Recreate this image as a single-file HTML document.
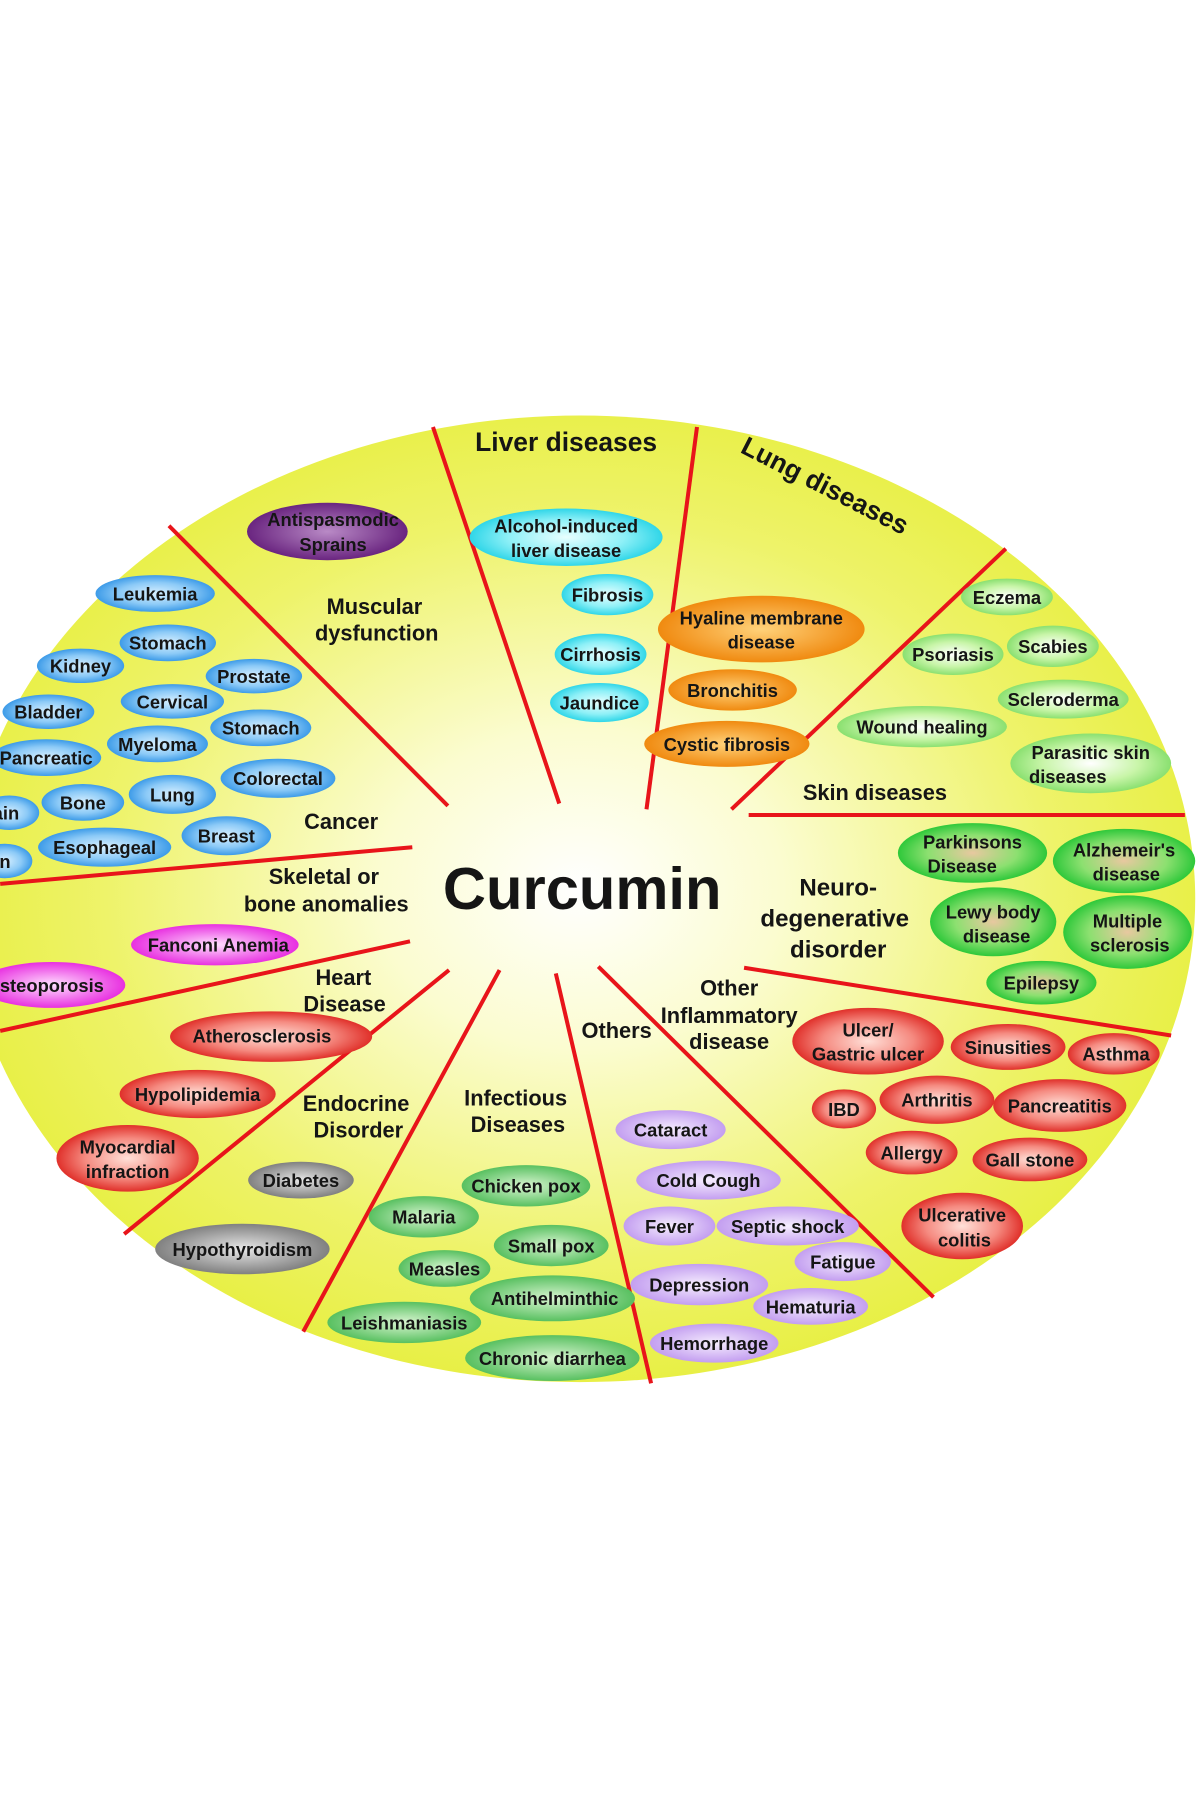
<!DOCTYPE html>
<html><head><meta charset="utf-8"><style>
html,body{margin:0;padding:0;background:#fff;}
svg{display:block;}
text{font-family:"Liberation Sans",Arial,sans-serif;font-weight:bold;fill:#151515;text-anchor:middle;}
.b{font-size:16px;}
.c{font-size:19px;}
</style></head><body>
<svg width="1200" height="1800" viewBox="0 0 1045 1568" xmlns="http://www.w3.org/2000/svg">
<defs>
<radialGradient id="bg" cx="0.5" cy="0.49" r="0.55">
<stop offset="0" stop-color="#ffffff"/><stop offset="0.3" stop-color="#fbfcd0"/><stop offset="0.7" stop-color="#eef36a"/><stop offset="1" stop-color="#e6ee3a"/></radialGradient>
<radialGradient id="blue"><stop offset="0" stop-color="#d8f0ff"/><stop offset="0.6" stop-color="#8ccaf7"/><stop offset="1" stop-color="#3d9be8"/></radialGradient>
<radialGradient id="cyan"><stop offset="0" stop-color="#e8ffff"/><stop offset="0.6" stop-color="#8ef0f7"/><stop offset="1" stop-color="#30d6e8"/></radialGradient>
<radialGradient id="purp"><stop offset="0" stop-color="#b98ac6"/><stop offset="1" stop-color="#6a2580"/></radialGradient>
<radialGradient id="orng"><stop offset="0" stop-color="#ffd27a"/><stop offset="1" stop-color="#f08a10"/></radialGradient>
<radialGradient id="lgrn"><stop offset="0" stop-color="#ffffff"/><stop offset="0.6" stop-color="#c8f5a8"/><stop offset="1" stop-color="#8ae070"/></radialGradient>
<radialGradient id="bgrn"><stop offset="0" stop-color="#e8c8a0"/><stop offset="0.6" stop-color="#8ce070"/><stop offset="1" stop-color="#2ec83a"/></radialGradient>
<radialGradient id="red"><stop offset="0" stop-color="#ffe0d8"/><stop offset="0.6" stop-color="#f58a80"/><stop offset="1" stop-color="#e0302a"/></radialGradient>
<radialGradient id="lav"><stop offset="0" stop-color="#f6eefe"/><stop offset="1" stop-color="#c39ef0"/></radialGradient>
<radialGradient id="mgrn"><stop offset="0" stop-color="#d8f5d0"/><stop offset="1" stop-color="#58c060"/></radialGradient>
<radialGradient id="gray"><stop offset="0" stop-color="#e8e8e8"/><stop offset="1" stop-color="#808080"/></radialGradient>
<radialGradient id="mag"><stop offset="0" stop-color="#ffe0ff"/><stop offset="1" stop-color="#e830e0"/></radialGradient>
</defs>
<ellipse cx="505" cy="783" rx="536" ry="421" fill="url(#bg)"/>
<g stroke="#e8141a" stroke-width="3.5">
<line x1="147" y1="458" x2="390" y2="702"/>
<line x1="377" y1="372" x2="487" y2="700"/>
<line x1="607" y1="372" x2="563" y2="705"/>
<line x1="876" y1="478" x2="637" y2="705"/>
<line x1="652" y1="710" x2="1032" y2="710"/>
<line x1="648" y1="843" x2="1020" y2="902"/>
<line x1="521" y1="842" x2="813" y2="1130"/>
<line x1="484" y1="848" x2="567" y2="1205"/>
<line x1="435" y1="845" x2="264" y2="1160"/>
<line x1="391" y1="845" x2="108" y2="1075"/>
<line x1="357" y1="820" x2="0" y2="898"/>
<line x1="359" y1="738" x2="0" y2="770"/>
</g>
<g fill="url(#blue)">
<ellipse cx="135" cy="517" rx="52" ry="16"/><ellipse cx="146" cy="560" rx="42" ry="16"/>
<ellipse cx="70" cy="580" rx="38" ry="15"/><ellipse cx="221" cy="589" rx="42" ry="15"/>
<ellipse cx="42" cy="620" rx="40" ry="15"/><ellipse cx="150" cy="611" rx="45" ry="15"/>
<ellipse cx="227" cy="634" rx="44" ry="16"/><ellipse cx="40" cy="660" rx="48" ry="16"/>
<ellipse cx="137" cy="648" rx="44" ry="16"/><ellipse cx="242" cy="678" rx="50" ry="17"/>
<ellipse cx="8" cy="708" rx="26" ry="15"/><ellipse cx="72" cy="699" rx="36" ry="16"/>
<ellipse cx="150" cy="692" rx="38" ry="17"/><ellipse cx="197" cy="728" rx="39" ry="17"/>
<ellipse cx="91" cy="738" rx="58" ry="17"/><ellipse cx="4" cy="750" rx="24" ry="15"/>
</g>
<ellipse cx="285" cy="463" rx="70" ry="25" fill="url(#purp)"/>
<g fill="url(#cyan)">
<ellipse cx="493" cy="468" rx="84" ry="25"/><ellipse cx="529" cy="518" rx="40" ry="18"/>
<ellipse cx="523" cy="570" rx="40" ry="18"/><ellipse cx="522" cy="612" rx="43" ry="17"/>
</g>
<g fill="url(#orng)">
<ellipse cx="663" cy="548" rx="90" ry="29"/><ellipse cx="638" cy="601" rx="56" ry="18"/><ellipse cx="633" cy="648" rx="72" ry="20"/>
</g>
<g fill="url(#lgrn)">
<ellipse cx="877" cy="520" rx="40" ry="16"/><ellipse cx="830" cy="570" rx="44" ry="18"/>
<ellipse cx="917" cy="563" rx="40" ry="18"/><ellipse cx="926" cy="609" rx="57" ry="17"/>
<ellipse cx="803" cy="633" rx="74" ry="18"/><ellipse cx="950" cy="665" rx="70" ry="26"/>
</g>
<g fill="url(#bgrn)">
<ellipse cx="847" cy="743" rx="65" ry="26"/><ellipse cx="979" cy="750" rx="62" ry="28"/>
<ellipse cx="865" cy="803" rx="55" ry="30"/><ellipse cx="982" cy="812" rx="56" ry="32"/>
<ellipse cx="907" cy="856" rx="48" ry="19"/>
</g>
<g fill="url(#red)">
<ellipse cx="756" cy="907" rx="66" ry="29"/><ellipse cx="878" cy="912" rx="50" ry="20"/>
<ellipse cx="970" cy="918" rx="40" ry="18"/><ellipse cx="735" cy="966" rx="28" ry="17"/>
<ellipse cx="816" cy="958" rx="50" ry="21"/><ellipse cx="923" cy="963" rx="58" ry="23"/>
<ellipse cx="794" cy="1004" rx="40" ry="19"/><ellipse cx="897" cy="1010" rx="50" ry="19"/>
<ellipse cx="838" cy="1068" rx="53" ry="29"/>
<ellipse cx="236" cy="903" rx="88" ry="22"/><ellipse cx="172" cy="953" rx="68" ry="21"/>
<ellipse cx="111" cy="1009" rx="62" ry="29"/>
</g>
<g fill="url(#lav)">
<ellipse cx="584" cy="984" rx="48" ry="17"/><ellipse cx="617" cy="1028" rx="63" ry="17"/>
<ellipse cx="583" cy="1068" rx="40" ry="17"/><ellipse cx="686" cy="1068" rx="62" ry="17"/>
<ellipse cx="734" cy="1099" rx="42" ry="17"/><ellipse cx="609" cy="1119" rx="60" ry="18"/>
<ellipse cx="706" cy="1138" rx="50" ry="16"/><ellipse cx="622" cy="1170" rx="56" ry="17"/>
</g>
<g fill="url(#mgrn)">
<ellipse cx="458" cy="1033" rx="56" ry="18"/><ellipse cx="369" cy="1060" rx="48" ry="18"/>
<ellipse cx="480" cy="1085" rx="50" ry="18"/><ellipse cx="387" cy="1105" rx="40" ry="16"/>
<ellipse cx="481" cy="1131" rx="72" ry="20"/><ellipse cx="352" cy="1152" rx="67" ry="18"/>
<ellipse cx="481" cy="1183" rx="76" ry="20"/>
</g>
<g fill="url(#gray)"><ellipse cx="262" cy="1028" rx="46" ry="16"/><ellipse cx="211" cy="1088" rx="76" ry="22"/></g>
<g fill="url(#mag)"><ellipse cx="187" cy="823" rx="73" ry="18"/><ellipse cx="45" cy="858" rx="64" ry="20"/></g>

<g class="b">
<text x="135" y="523">Leukemia</text><text x="146" y="566">Stomach</text><text x="70" y="586">Kidney</text>
<text x="221" y="595">Prostate</text><text x="42" y="626">Bladder</text><text x="150" y="617">Cervical</text>
<text x="227" y="640">Stomach</text><text x="40" y="666">Pancreatic</text><text x="137" y="654">Myeloma</text>
<text x="242" y="684">Colorectal</text><text x="5" y="714">ain</text><text x="72" y="705">Bone</text>
<text x="150" y="698">Lung</text><text x="197" y="734">Breast</text><text x="91" y="744">Esophageal</text>
<text x="2" y="756">in</text>
<text x="290" y="458">Antispasmodic</text><text x="290" y="480">Sprains</text>
<text x="493" y="464">Alcohol-induced</text><text x="493" y="485">liver disease</text>
<text x="529" y="524">Fibrosis</text><text x="523" y="576">Cirrhosis</text><text x="522" y="618">Jaundice</text>
<text x="663" y="544">Hyaline membrane</text><text x="663" y="565">disease</text>
<text x="638" y="607">Bronchitis</text><text x="633" y="654">Cystic fibrosis</text>
<text x="877" y="526">Eczema</text><text x="830" y="576">Psoriasis</text><text x="917" y="569">Scabies</text>
<text x="926" y="615">Scleroderma</text><text x="803" y="639">Wound healing</text>
<text x="950" y="661">Parasitic skin</text><text x="930" y="682">diseases</text>
<text x="847" y="739">Parkinsons</text><text x="838" y="760">Disease</text>
<text x="979" y="746">Alzhemeir's</text><text x="981" y="767">disease</text>
<text x="865" y="800">Lewy body</text><text x="868" y="821">disease</text>
<text x="982" y="808">Multiple</text><text x="984" y="829">sclerosis</text>
<text x="907" y="862">Epilepsy</text>
<text x="756" y="903">Ulcer/</text><text x="756" y="924">Gastric ulcer</text>
<text x="878" y="918">Sinusities</text><text x="972" y="924">Asthma</text><text x="735" y="972">IBD</text>
<text x="816" y="964">Arthritis</text><text x="923" y="969">Pancreatitis</text>
<text x="794" y="1010">Allergy</text><text x="897" y="1016">Gall stone</text>
<text x="838" y="1064">Ulcerative</text><text x="840" y="1086">colitis</text>
<text x="228" y="908">Atherosclerosis</text><text x="172" y="959">Hypolipidemia</text>
<text x="111" y="1005">Myocardial</text><text x="111" y="1026">infraction</text>
<text x="584" y="990">Cataract</text><text x="617" y="1034">Cold Cough</text>
<text x="583" y="1074">Fever</text><text x="686" y="1074">Septic shock</text>
<text x="734" y="1105">Fatigue</text><text x="609" y="1125">Depression</text>
<text x="706" y="1144">Hematuria</text><text x="622" y="1176">Hemorrhage</text>
<text x="458" y="1039">Chicken pox</text><text x="369" y="1066">Malaria</text>
<text x="480" y="1091">Small pox</text><text x="387" y="1111">Measles</text>
<text x="483" y="1137">Antihelminthic</text><text x="352" y="1158">Leishmaniasis</text>
<text x="481" y="1189">Chronic diarrhea</text>
<text x="262" y="1034">Diabetes</text><text x="211" y="1094">Hypothyroidism</text>
<text x="190" y="829">Fanconi Anemia</text><text x="45" y="864">steoporosis</text>
</g>
<g class="c">
<text x="326" y="535">Muscular</text><text x="328" y="558">dysfunction</text>
<text x="297" y="722">Cancer</text>
<text x="282" y="770">Skeletal or</text><text x="284" y="794">bone anomalies</text>
<text x="299" y="858">Heart</text><text x="300" y="881">Disease</text>
<text x="310" y="968">Endocrine</text><text x="312" y="991">Disorder</text>
<text x="449" y="963">Infectious</text><text x="451" y="986">Diseases</text>
<text x="537" y="904">Others</text>
<text x="635" y="867">Other</text><text x="635" y="891">Inflammatory</text><text x="635" y="914">disease</text>
<text x="762" y="697">Skin diseases</text>
</g>
<g style="font-size:21px">
<text x="730" y="780">Neuro-</text><text x="727" y="807">degenerative</text><text x="730" y="834">disorder</text>
</g>
<text x="493" y="393" style="font-size:23px">Liver diseases</text>
<text x="715" y="430" style="font-size:23px" transform="rotate(27 715 430)">Lung diseases</text>
<text x="507" y="792" style="font-size:52px">Curcumin</text>
</svg>
</body></html>
